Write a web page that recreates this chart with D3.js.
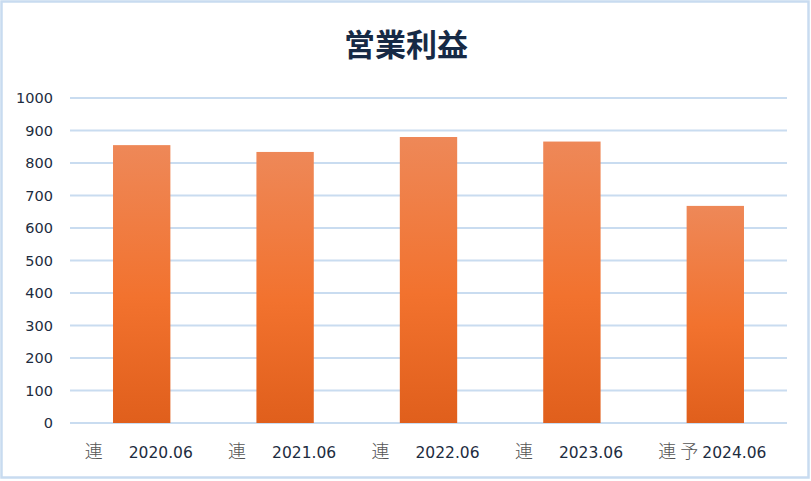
<!DOCTYPE html>
<html>
<head>
<meta charset="utf-8">
<script src="https://cdn.jsdelivr.net/npm/d3@7"></script>
<style>
  body { margin: 0; background: #fff; }
  svg { display: block; }
</style>
</head>
<body>
<div id="chart"></div>
<script>
// data
let prefixes = ['連', '連', '連', '連', '連 予']
let periods = ['2020.06', '2021.06', '2022.06', '2023.06', '2024.06']
let values = [855, 834, 880, 866, 668]
let yTicks = [0, 100, 200, 300, 400, 500, 600, 700, 800, 900, 1000]

let width = 811
let height = 481
let margin = { top: 98, left: 70, right: 24, bottom: 58 }

let svg = d3.select('#chart').append('svg')
  .attr('width', width)
  .attr('height', height)

// outer frame
svg.append('rect')
  .attr('x', 1.5).attr('y', 1.5)
  .attr('width', width - 4).attr('height', height - 5)
  .attr('fill', '#fff')
  .attr('stroke', '#c8dbf0')
  .attr('stroke-width', 2.5)

let defs = svg.append('defs')
let grad = defs.append('linearGradient')
  .attr('id', 'barGrad')
  .attr('x1', 0).attr('y1', 0).attr('x2', 0).attr('y2', 1)
grad.append('stop').attr('offset', '0%').attr('stop-color', '#ee8858')
grad.append('stop').attr('offset', '55%').attr('stop-color', '#f2722e')
grad.append('stop').attr('offset', '100%').attr('stop-color', '#e05f1c')

let xScale = d3.scaleBand()
  .domain(periods)
  .range([margin.left, width - margin.right])
  .paddingInner(0.6)
  .paddingOuter(0.3)

let yScale = d3.scaleLinear()
  .domain([0, 1000])
  .range([height - margin.bottom, margin.top])

// title
svg.append('text')
  .attr('x', 406)
  .attr('y', 56)
  .attr('text-anchor', 'middle')
  .attr('font-family', '"Noto Sans CJK JP", sans-serif')
  .attr('font-size', 31)
  .attr('font-weight', 'bold')
  .attr('fill', '#172a45')
  .text('営業利益')

// gridlines
svg.selectAll('.grid')
  .data(yTicks)
  .enter().append('line')
  .attr('x1', margin.left)
  .attr('x2', width - margin.right)
  .attr('y1', d => yScale(d))
  .attr('y2', d => yScale(d))
  .attr('stroke', '#c9dcf0')
  .attr('stroke-width', 2)

// y axis labels
let yAxis = d3.axisLeft(yScale)
  .tickValues(yTicks)
  .tickFormat(d3.format('d'))
  .tickSize(0)
  .tickPadding(0)
let yG = svg.append('g')
  .attr('transform', `translate(${margin.left - 17},0)`)
  .call(yAxis)
yG.select('.domain').remove()
yG.selectAll('text')
  .attr('font-family', '"DejaVu Sans", sans-serif')
  .attr('font-size', 14.5)
  .attr('fill', '#1d2c40')

// bars
svg.selectAll('.bar')
  .data(values)
  .enter().append('rect')
  .attr('x', (d, i) => xScale(periods[i]))
  .attr('width', xScale.bandwidth())
  .attr('y', d => yScale(d))
  .attr('height', d => yScale(0) - yScale(d))
  .attr('fill', 'url(#barGrad)')

// x labels: prefix + period
let labels = svg.selectAll('.x-label')
  .data(periods)
  .enter().append('text')
  .attr('y', 458)

labels.append('tspan')
  .attr('x', (d, i) => xScale(d) + xScale.bandwidth() / 2 - 57)
  .attr('font-family', '"Noto Sans CJK JP", sans-serif')
  .attr('font-size', 18)
  .attr('font-weight', 300)
  .attr('fill', '#555')
  .style('white-space', 'pre')
  .text((d, i) => prefixes[i])

labels.append('tspan')
  .attr('x', (d, i) => xScale(d) + xScale.bandwidth() / 2 - 13)
  .attr('font-family', '"DejaVu Sans", sans-serif')
  .attr('font-size', 15.5)
  .attr('fill', '#1d2c40')
  .text(d => d)
</script>
</body>
</html>
